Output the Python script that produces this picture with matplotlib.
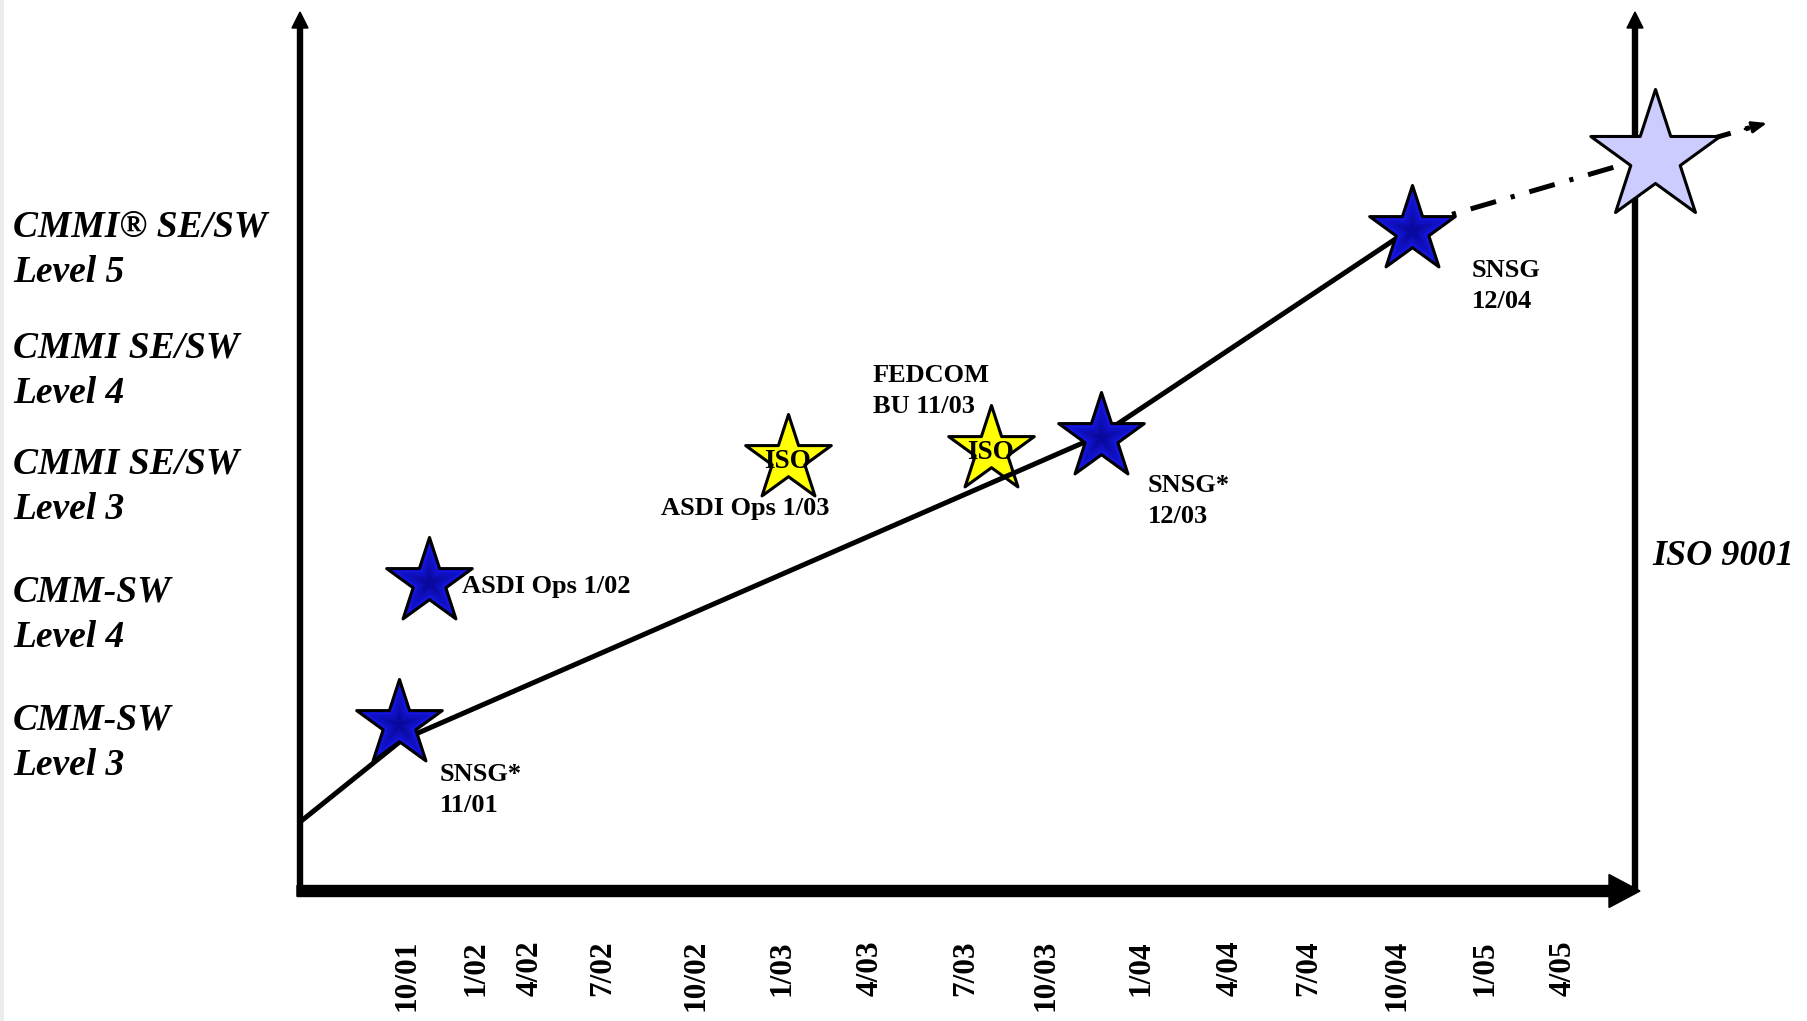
import matplotlib
matplotlib.use("Agg")
import matplotlib.pyplot as plt
from matplotlib.path import Path
from matplotlib.patches import FancyArrow
import numpy as np

plt.rcParams['font.family'] = ['Liberation Serif', 'DejaVu Serif']
plt.rcParams['lines.scale_dashes'] = False

# maturity levels (left side), baseline of the "Level" line
level_names = ["CMMI® SE/SW\nLevel 5", "CMMI SE/SW\nLevel 4", "CMMI SE/SW\nLevel 3",
               "CMM-SW\nLevel 4", "CMM-SW\nLevel 3"]
level_y = [282, 403, 519, 647, 775]

# dates along the bottom
date_labels = ["10/01", "1/02", "4/02", "7/02", "10/02", "1/03", "4/03", "7/03",
               "10/03", "1/04", "4/04", "7/04", "10/04", "1/05", "4/05"]
date_x = [407, 476, 530, 603, 696, 782, 870, 966, 1046, 1141, 1230, 1309, 1397, 1485, 1563]

# CMM / CMMI appraisals (blue stars)
blue_x = [399, 429, 1101, 1412]
blue_y = [724, 582, 437, 230]
blue_names = ["SNSG*\n11/01", "ASDI Ops 1/02", "SNSG*\n12/03", "SNSG\n12/04"]
blue_name_x = [440, 462, 1148, 1472]
blue_name_y = [812, 593, 523, 308]

# ISO registrations (yellow stars)
iso_x = [788, 991]
iso_y = [459, 450]
iso_names = ["ASDI Ops 1/03", "FEDCOM\nBU 11/03"]
iso_name_x = [661, 873]
iso_name_y = [515, 413]

# growth path and the future goal
path_x = [300, 402, 1101, 1412]
path_y = [822, 740, 435, 228]
future_x = [1412, 1752]
future_y = [226, 127]
goal_x = [1655]
goal_y = [157]


def star_path(inner=0.382):
    a_out = np.deg2rad(90 + 72 * np.arange(5))
    a_in = a_out + np.deg2rad(36)
    v = []
    for a, b in zip(a_out, a_in):
        v.append((np.cos(a), np.sin(a)))
        v.append((inner * np.cos(b), inner * np.sin(b)))
    v.append(v[0])
    return Path(v, closed=True)


STAR = star_path()
PX = 0.72  # points per pixel at dpi 100

fig = plt.figure(figsize=(18.07, 10.21), dpi=100)
ax = fig.add_axes([0, 0, 1, 1])
ax.set_xlim(0, 1807)
ax.set_ylim(1021, 0)
ax.axis('off')

# faint edge on the left
ax.axvspan(0, 4, color='#ececec', lw=0, zorder=0)

# axes with arrows
ax.add_patch(FancyArrow(300, 896, 0, 12 - 896, width=5, head_width=16, head_length=16,
                        length_includes_head=True, color='black', zorder=1))
ax.add_patch(FancyArrow(1635, 891, 0, 12 - 891, width=5, head_width=16, head_length=16,
                        length_includes_head=True, color='black', zorder=1))
ax.add_patch(FancyArrow(297, 891, 1640 - 297, 0, width=11, head_width=33, head_length=31,
                        length_includes_head=True, color='black', zorder=1))

# growth path
ax.plot(path_x, path_y, color='black', lw=5 * PX, solid_capstyle='butt', zorder=3)
ax.plot(future_x, future_y, color='black', lw=5 * PX, dash_capstyle='butt',
        linestyle=(0, (19, 11, 3, 11)), zorder=2)
ax.annotate('', xy=(1767, 123), xytext=(1745, 129),
            arrowprops=dict(arrowstyle='-|>,head_length=0.9,head_width=0.35', color='black',
                            lw=2, shrinkA=0, shrinkB=0), zorder=2)

# yellow ISO stars
ax.plot(iso_x, iso_y, ls='none', marker=STAR, ms=2 * 45 * PX, mfc='#ffff00',
        mec='black', mew=2.2, zorder=2)
for x, y in zip(iso_x, iso_y):
    ax.text(x, y + 9, "ISO", fontsize=19.5, fontweight='bold', ha='center', va='baseline', zorder=6)
for s, x, y in zip(iso_names, iso_name_x, iso_name_y):
    ax.text(x, y, s, fontsize=19, fontweight='bold', ha='left', va='baseline',
            linespacing=1.45, zorder=6)

# blue appraisal stars, darker toward the centre
ax.plot(blue_x, blue_y, ls='none', marker=STAR, ms=2 * 45 * PX, mfc='#1414dc',
        mec='black', mew=2.2, zorder=4)
for k in [0.7, 0.45, 0.25]:
    ax.plot(blue_x, blue_y, ls='none', marker=STAR, ms=2 * 45 * PX * k, mfc='#000060',
            mec='none', alpha=0.2, zorder=4)
for s, x, y in zip(blue_names, blue_name_x, blue_name_y):
    ax.text(x, y, s, fontsize=19, fontweight='bold', ha='left', va='baseline',
            linespacing=1.45, zorder=6)

# goal star
ax.plot(goal_x, goal_y, ls='none', marker=STAR, ms=2 * 68 * PX, mfc='#ccccff',
        mec='black', mew=2.2, zorder=5)

# level labels
for s, y in zip(level_names, level_y):
    ax.text(13, y, s, fontsize=27, fontweight='bold', fontstyle='italic',
            ha='left', va='baseline', linespacing=1.38)

ax.text(1652, 565, "ISO 9001", fontsize=26, fontweight='bold', fontstyle='italic',
        ha='left', va='baseline')

# date labels
for s, x in zip(date_labels, date_x):
    ax.text(x, 940, s, fontsize=22.5, fontweight='bold', rotation=90,
            ha='center', va='top')

fig.savefig('out.png', dpi=100)
